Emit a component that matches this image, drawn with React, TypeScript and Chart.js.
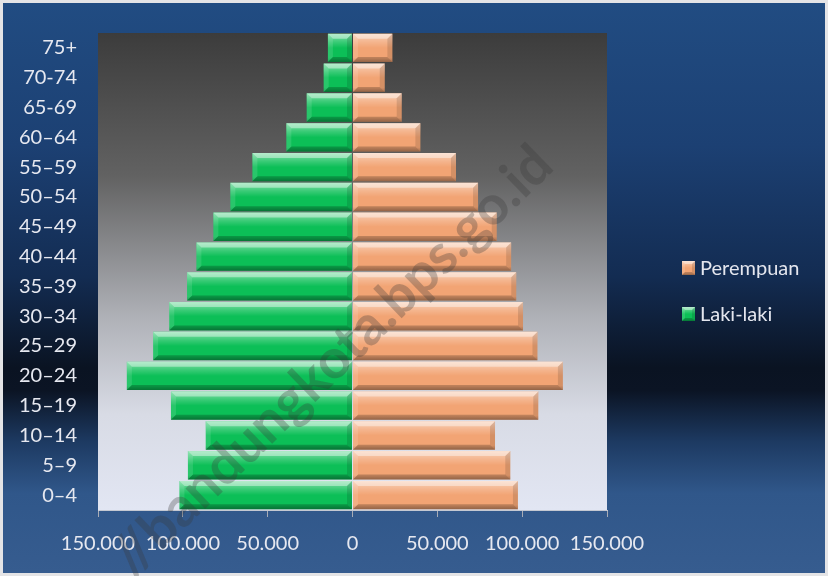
import React, { useEffect, useRef } from "react";
import { Chart, registerables } from "chart.js";

Chart.register(...registerables);

const ageGroups = [
  "75+", "70-74", "65-69", "60–64", "55–59", "50–54", "45–49", "40–44",
  "35–39", "30–34", "25–29", "20–24", "15–19", "10–14", "5–9", "0–4",
];
const lakiLaki = [
  14500, 17000, 27000, 39000, 59000, 72000, 82000, 92000,
  97500, 108000, 117500, 133000, 107000, 86500, 97000, 102000,
];
const perempuan = [
  23500, 19000, 29000, 40000, 61000, 74000, 85000, 93500,
  96500, 100500, 109000, 124000, 109500, 84000, 93000, 97500,
];
const xTicks = [-150000, -100000, -50000, 0, 50000, 100000, 150000];
const seriesNames = ["Laki-laki", "Perempuan"];
const seriesColors = ["#0cbf57", "#f2a474"];
const watermark = "//bandungkota.bps.go.id";

const FONT = "Lato, 'Open Sans', sans-serif";

function fmt(v: number): string {
  return String(Math.abs(v)).replace(/\B(?=(\d{3})+(?!\d))/g, ".");
}

function bevel(ctx: CanvasRenderingContext2D, L: number, T: number, R: number, B: number, b: number) {
  const g = ctx.createLinearGradient(0, T, 0, B);
  g.addColorStop(0, "rgba(255,255,255,0.5)");
  g.addColorStop(0.3, "rgba(255,255,255,0.18)");
  g.addColorStop(0.5, "rgba(255,255,255,0)");
  g.addColorStop(0.85, "rgba(0,0,0,0)");
  g.addColorStop(1, "rgba(0,0,0,0.22)");
  ctx.fillStyle = g;
  ctx.fillRect(L, T, R - L, B - T);
  const poly = (pts: number[][], c: string) => {
    ctx.beginPath();
    ctx.moveTo(pts[0][0], pts[0][1]);
    for (let i = 1; i < pts.length; i++) ctx.lineTo(pts[i][0], pts[i][1]);
    ctx.closePath();
    ctx.fillStyle = c;
    ctx.fill();
  };
  poly([[L, T], [R, T], [R - b, T + b], [L + b, T + b]], "rgba(255,255,255,0.4)");
  poly([[L, B], [R, B], [R - b, B - b], [L + b, B - b]], "rgba(0,0,0,0.22)");
  poly([[R, T], [R, B], [R - b, B - b], [R - b, T + b]], "rgba(0,0,0,0.12)");
  poly([[L, T], [L, B], [L + b, B - b], [L + b, T + b]], "rgba(255,255,255,0.12)");
}

export default function App() {
  const ref = useRef<HTMLCanvasElement | null>(null);

  useEffect(() => {
    if (!ref.current) return;

    const plotBg = {
      id: "plotBg",
      beforeDatasetsDraw(chart: any) {
        const { ctx, chartArea: a } = chart;
        const g = ctx.createLinearGradient(0, a.top, 0, a.bottom);
        g.addColorStop(0, "#3c3c3c");
        g.addColorStop(0.3, "#626262");
        g.addColorStop(0.6, "#b0b2b8");
        g.addColorStop(0.8, "#d8dbe5");
        g.addColorStop(1, "#e2e6f3");
        ctx.save();
        ctx.fillStyle = g;
        ctx.fillRect(a.left, a.top, a.right - a.left, a.bottom - a.top);
        ctx.restore();
      },
    };

    const barBevel = {
      id: "barBevel",
      afterDatasetsDraw(chart: any) {
        const ctx = chart.ctx as CanvasRenderingContext2D;
        ctx.save();
        chart.data.datasets.forEach((_d: any, di: number) => {
          const meta = chart.getDatasetMeta(di);
          meta.data.forEach((el: any) => {
            const p = el.getProps(["x", "y", "base", "height"], true);
            const L = Math.min(p.x, p.base);
            const R = Math.max(p.x, p.base);
            const T = p.y - p.height / 2;
            const B = p.y + p.height / 2;
            bevel(ctx, L, T, R, B, Math.min(5, (R - L) / 2));
          });
        });
        ctx.restore();
      },
    };

    const legendAndMark = {
      id: "legendAndMark",
      afterDraw(chart: any) {
        const ctx = chart.ctx as CanvasRenderingContext2D;
        ctx.save();
        // legend (Perempuan first, then Laki-laki)
        const order = [1, 0];
        order.forEach((di, i) => {
          const ds = chart.data.datasets[di];
          const cy = 268 + i * 46;
          ctx.fillStyle = ds.backgroundColor;
          ctx.fillRect(682, cy - 7, 13, 14);
          bevel(ctx, 682, cy - 7, 695, cy + 7, 3);
          ctx.fillStyle = "#e4e6ee";
          ctx.font = `20px ${FONT}`;
          ctx.textBaseline = "middle";
          ctx.textAlign = "left";
          ctx.fillText(ds.label, 700, cy + 1);
        });
        // watermark
        ctx.translate(332, 361);
        ctx.rotate(-0.77);
        ctx.font = `bold 55px ${FONT}`;
        ctx.textAlign = "center";
        ctx.textBaseline = "middle";
        ctx.fillStyle = "rgba(55,55,55,0.3)";
        ctx.fillText(watermark, 0, 0);
        ctx.restore();
      },
    };

    const chart = new Chart(ref.current, {
      type: "bar",
      data: {
        labels: ageGroups,
        datasets: [
          {
            label: seriesNames[0],
            data: lakiLaki.map((v) => -v),
            backgroundColor: seriesColors[0],
            borderWidth: 0,
            barPercentage: 0.95,
            categoryPercentage: 1,
          },
          {
            label: seriesNames[1],
            data: perempuan,
            backgroundColor: seriesColors[1],
            borderWidth: 0,
            barPercentage: 0.95,
            categoryPercentage: 1,
          },
        ],
      },
      options: {
        indexAxis: "y",
        animation: false,
        responsive: false,
        maintainAspectRatio: false,
        layout: { padding: { left: 8, top: 30, right: 221, bottom: 16 } },
        plugins: {
          legend: { display: false },
          tooltip: { enabled: false },
        },
        scales: {
          x: {
            stacked: true,
            min: -150000,
            max: 150000,
            afterBuildTicks: (s: any) => {
              s.ticks = xTicks.map((v) => ({ value: v }));
            },
            afterFit: (s: any) => {
              s.height = 50;
            },
            ticks: {
              color: "#e6e8f0",
              font: { family: FONT, size: 20 },
              padding: 15,
              maxRotation: 0,
              autoSkip: false,
              callback: (v: any) => fmt(Number(v)),
            },
            grid: {
              display: true,
              drawOnChartArea: false,
              drawTicks: true,
              tickLength: 7,
              color: "#a8acb6",
            },
            border: { display: true, color: "#c4c8d2" },
          },
          y: {
            stacked: true,
            afterFit: (s: any) => {
              s.width = 90;
            },
            ticks: {
              color: "#e6e8f0",
              font: { family: FONT, size: 20 },
              padding: 21,
              autoSkip: false,
            },
            grid: { display: false, drawTicks: false },
            border: { display: true, color: "rgba(215,218,228,0.5)" },
          },
        },
      },
      plugins: [plotBg, barBevel, legendAndMark],
    });

    return () => chart.destroy();
  }, []);

  return (
    <div
      style={{
        position: "absolute",
        left: 0,
        top: 0,
        width: 828,
        height: 576,
        background: "#e4e4e6",
      }}
    >
      <div
        style={{
          position: "absolute",
          left: 3,
          top: 3,
          right: 3,
          bottom: 3,
          background:
            "linear-gradient(180deg, #214c82 0%, #1c4073 25%, #132c52 48%, #0a1322 64%, #0b1424 68%, #1d3a62 77%, #30578a 86%, #365c8f 100%)",
        }}
      />
      <canvas
        ref={ref}
        width={828}
        height={576}
        style={{ position: "absolute", left: 0, top: 0, width: 828, height: 576 }}
      />
    </div>
  );
}
